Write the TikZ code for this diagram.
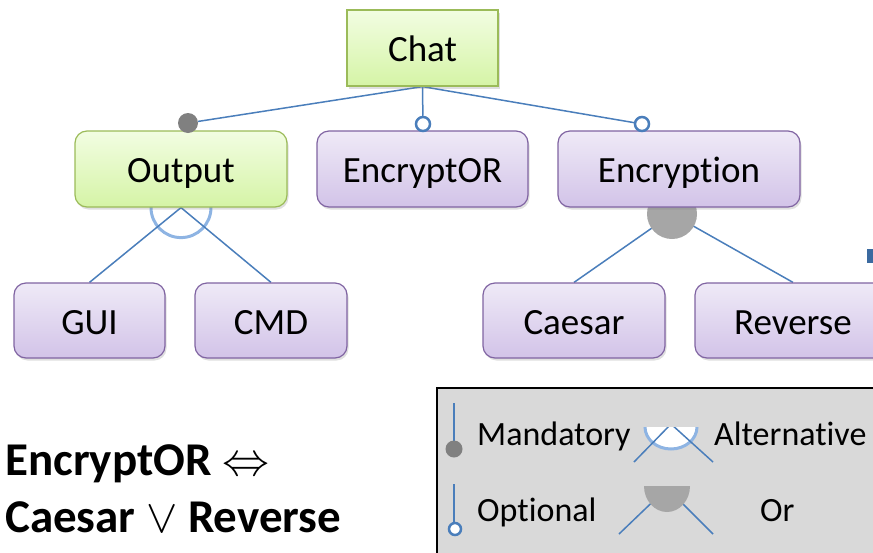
\RequirePackage{fix-cm}
\documentclass[tikz,border=0pt]{standalone}
\usepackage{fontspec}
\setmainfont[Ligatures=NoCommon]{Carlito}
\usetikzlibrary{shadows,backgrounds}

\definecolor{featgreen}{HTML}{9BBB59}
\definecolor{greentop}{HTML}{F2FDE2}
\definecolor{greenbot}{HTML}{D5F4A6}
\definecolor{featpurple}{HTML}{8064A2}
\definecolor{purpletop}{HTML}{EFEAF7}
\definecolor{purplebot}{HTML}{D2C3E8}
\definecolor{linkblue}{HTML}{4A7EBB}
\definecolor{altblue}{HTML}{8EB4E3}
\definecolor{dotgray}{HTML}{808080}
\definecolor{orgray}{HTML}{A6A6A6}
\definecolor{legendgray}{HTML}{D9D9D9}
\definecolor{squareblue}{HTML}{3B6AA0}

\tikzset{
  feat/.style={rectangle, rounded corners=12pt, line width=1.2pt, minimum height=76pt,
    inner sep=0pt, text height=27pt, text depth=0pt, font=\fontsize{37}{40}\selectfont,
    drop shadow={opacity=0.25, shadow xshift=1.5pt, shadow yshift=-2.5pt}},
  greenfeat/.style={feat, draw=featgreen, top color=greentop, bottom color=greenbot},
  purplefeat/.style={feat, draw=featpurple, top color=purpletop, bottom color=purplebot},
  link/.style={draw=linkblue, line width=1.5pt},
  altarc/.style={draw=altblue, line width=3pt},
  mand/.style={circle, fill=dotgray, minimum size=20pt, inner sep=0pt},
  opt/.style={circle, draw=linkblue, line width=2.5pt, fill=white, minimum size=14pt, inner sep=0pt},
  legtext/.style={anchor=base west, inner sep=0pt, font=\fontsize{34}{36}\selectfont},
  ruletext/.style={anchor=base west, inner sep=0pt, font=\bfseries\fontsize{47}{50}\selectfont},
}

\begin{document}
\begin{tikzpicture}[x=1pt,y=-1pt]
\useasboundingbox (0,0) rectangle (873,552);
\clip (0,0) rectangle (873,552);

\node[greenfeat, sharp corners, minimum width=151pt] (chat) at (422.5,48) {Chat};
\node[greenfeat, minimum width=212pt] (output) at (181,169) {Output};
\node[purplefeat, minimum width=211pt] (encryptor) at (422.5,169) {EncryptOR};
\node[purplefeat, minimum width=242pt] (encryption) at (679,169) {Encryption};
\node[purplefeat, minimum width=151pt, minimum height=75pt] (gui) at (89.5,320.5) {GUI};
\node[purplefeat, minimum width=152pt, minimum height=75pt] (cmd) at (271,320.5) {CMD};
\node[purplefeat, minimum width=182pt, minimum height=75pt] (caesar) at (574,320.5) {Caesar};
\node[purplefeat, minimum width=196pt, minimum height=75pt] (reverse) at (793,320.5) {Reverse};

\node[mand] (mOutput) at (188,123) {};
\node[opt] (oEncryptor) at (423,124) {};
\node[opt] (oEncryption) at (642,124) {};
\coordinate (orEncryption) at (672,214);

\begin{scope}[on background layer]
\draw[link] (chat.south) -- (mOutput);
\draw[link] (chat.south) -- (oEncryptor);
\draw[link] (chat.south) -- (oEncryption);
\draw[altarc] (output.south) ellipse [x radius=30pt, y radius=30pt];
\draw[link] (output.south) -- (gui.north);
\draw[link] (output.south) -- (cmd.north);
\draw[link] (orEncryption) -- (caesar.north);
\draw[link] (orEncryption) -- (reverse.north);
\fill[orgray] (orEncryption) circle (25pt);
\end{scope}

\fill[squareblue] (867,249) rectangle (880,263);

% legend
\draw[fill=legendgray, line width=1.5pt] (437,388) rectangle (900,600);
\draw[link] (454,403) -- (454,441);
\fill[dotgray] (454,449) circle (8.5pt);
\node[legtext] (lMandatory) at (477,445) {Mandatory};
\draw[link] (454,484) -- (454,522);
\draw[draw=linkblue, line width=2.5pt, fill=white] (455,529) circle (6pt);
\node[legtext] (lOptional) at (477,521) {Optional};
\begin{scope}
\clip (625,427) rectangle (720,470);
\draw[altarc, fill=white] (671,427) ellipse [x radius=26pt, y radius=22pt];
\draw[link] (634,462) -- (671,424) -- (713,462);
\end{scope}
\node[legtext] (lAlternative) at (714,445) {Alternative};
\draw[link] (619,534) -- (667,488) -- (713,534);
\fill[orgray] (644,486) arc[start angle=180, end angle=360, x radius=23pt, y radius=26pt] -- cycle;
\node[legtext] (lOr) at (760,521) {Or};

\node[ruletext] (rule1) at (5,475) {EncryptOR $\Leftrightarrow$};
\node[ruletext] (rule2) at (5,532) {Caesar $\vee$ Reverse};
\end{tikzpicture}
\end{document}
